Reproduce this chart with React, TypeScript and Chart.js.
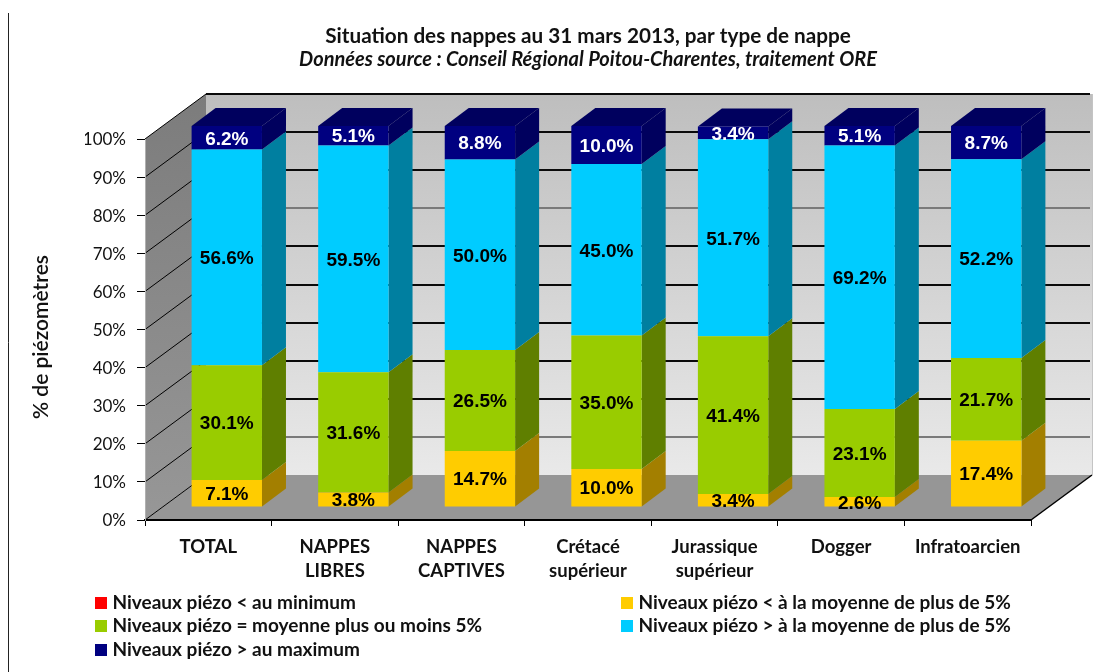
import React, { useEffect, useRef } from "react";
import { Chart, registerables } from "chart.js";

Chart.register(...registerables);

const categories = [
  "TOTAL",
  ["NAPPES", "LIBRES"],
  ["NAPPES", "CAPTIVES"],
  ["Crétacé", "supérieur"],
  ["Jurassique", "supérieur"],
  "Dogger",
  "Infratoarcien",
];
const belowMinimum = [0, 0, 0, 0, 0, 0, 0];
const belowAverage = [7.1, 3.8, 14.7, 10.0, 3.4, 2.6, 17.4];
const aroundAverage = [30.1, 31.6, 26.5, 35.0, 41.4, 23.1, 21.7];
const aboveAverage = [56.6, 59.5, 50.0, 45.0, 51.7, 69.2, 52.2];
const aboveMaximum = [6.2, 5.1, 8.8, 10.0, 3.4, 5.1, 8.7];

const seriesLabels = [
  "Niveaux piézo < au minimum",
  "Niveaux piézo < à la moyenne de plus de 5%",
  "Niveaux piézo = moyenne plus ou moins 5%",
  "Niveaux piézo > à la moyenne de plus de 5%",
  "Niveaux piézo > au maximum",
];
const seriesColors = ["#FF0000", "#FFCC00", "#99CC00", "#00CCFF", "#000080"];
const sideColors = ["#800000", "#A37F00", "#5F7F00", "#007FA0", "#00005E"];
const labelColors = ["#000", "#000", "#000", "#000", "#fff"];

const titleText = "Situation des nappes au 31 mars 2013, par type de nappe";
const subtitleText = "Données source : Conseil Régional Poitou-Charentes, traitement ORE";
const yTitleText = "% de piézomètres";

const WALL_DX = 61;
const WALL_DY = -45;
const BAR_PLANE_DX = 18.5;
const BAR_PLANE_DY = -13;
const BAR_DEPTH_DX = 24;
const BAR_DEPTH_DY = -18;
const LABEL_FONT = "Lato, 'Open Sans', sans-serif";

const legendSlots = [
  { x: 95, y: 597 },
  { x: 621, y: 597 },
  { x: 95, y: 620 },
  { x: 621, y: 620 },
  { x: 95, y: 644 },
];

const poly = (ctx: CanvasRenderingContext2D, pts: number[][], fill: any) => {
  ctx.fillStyle = fill;
  ctx.beginPath();
  pts.forEach((p, i) => (i ? ctx.lineTo(p[0], p[1]) : ctx.moveTo(p[0], p[1])));
  ctx.closePath();
  ctx.fill();
};

const stage3d = {
  id: "stage3d",
  beforeDraw(chart: any) {
    const { ctx, chartArea: a, scales } = chart;
    const { left: l, right: r, top: t, bottom: b } = a;
    ctx.save();
    // page frame
    ctx.strokeStyle = "#222";
    ctx.lineWidth = 1;
    ctx.beginPath();
    ctx.moveTo(8.5, 13);
    ctx.lineTo(8.5, 672);
    ctx.stroke();

    const back = ctx.createLinearGradient(0, t + WALL_DY, 0, b + WALL_DY);
    back.addColorStop(0, "#BEBEBE");
    back.addColorStop(1, "#E9E9E9");
    poly(ctx, [[l + WALL_DX, t + WALL_DY], [r + WALL_DX, t + WALL_DY], [r + WALL_DX, b + WALL_DY], [l + WALL_DX, b + WALL_DY]], back);

    const side = ctx.createLinearGradient(0, t + WALL_DY, 0, b);
    side.addColorStop(0, "#7C7C7C");
    side.addColorStop(1, "#979797");
    poly(ctx, [[l, t], [l + WALL_DX, t + WALL_DY], [l + WALL_DX, b + WALL_DY], [l, b]], side);

    poly(ctx, [[l, b], [r, b], [r + WALL_DX, b + WALL_DY], [l + WALL_DX, b + WALL_DY]], "#969696");

    // grid lines on the back and left walls, following the y scale
    const y = scales.y;
    y.ticks.forEach((tick: any) => {
      if (tick.value === 0) return;
      const py = y.getPixelForValue(tick.value);
      const soft = tick.value === 70 || tick.value === 10;
      ctx.fillStyle = soft ? "#7A7A7A" : "#0A0A0A";
      ctx.fillRect(l + WALL_DX, Math.round(py + WALL_DY) - 1, r - l - 2, 2);
      ctx.strokeStyle = "#000";
      ctx.lineWidth = 1;
      ctx.beginPath();
      ctx.moveTo(l, py);
      ctx.lineTo(l + WALL_DX, py + WALL_DY);
      ctx.stroke();
    });
    const y0 = y.getPixelForValue(0);
    ctx.strokeStyle = "#000";
    ctx.lineWidth = 1;
    ctx.beginPath();
    ctx.moveTo(l, y0);
    ctx.lineTo(l + WALL_DX, y0 + WALL_DY);
    ctx.stroke();
    ctx.lineWidth = 1.5;
    ctx.beginPath();
    ctx.moveTo(r, y0);
    ctx.lineTo(r + WALL_DX, y0 + WALL_DY);
    ctx.stroke();
    ctx.fillStyle = "#C4C4C4";
    ctx.fillRect(r + WALL_DX, t + WALL_DY, 1, b - t);
    ctx.restore();
  },
  beforeDatasetsDraw(chart: any) {
    const { ctx } = chart;
    ctx.save();
    chart.data.datasets.forEach((ds: any, di: number) => {
      chart.getDatasetMeta(di).data.forEach((bar: any, i: number) => {
        if (!ds.data[i]) return;
        const { x, y, base, width } = bar.getProps(["x", "y", "base", "width"], true);
        const xr = x + width / 2 + BAR_PLANE_DX;
        const yt = y + BAR_PLANE_DY;
        const yb = base + BAR_PLANE_DY;
        poly(ctx, [[xr, yt], [xr + BAR_DEPTH_DX, yt + BAR_DEPTH_DY], [xr + BAR_DEPTH_DX, yb + BAR_DEPTH_DY], [xr, yb]], sideColors[di]);
      });
    });
    const last = chart.data.datasets.length - 1;
    chart.getDatasetMeta(last).data.forEach((bar: any) => {
      const { x, y, width } = bar.getProps(["x", "y", "width"], true);
      const xl = x - width / 2 + BAR_PLANE_DX;
      const xr = x + width / 2 + BAR_PLANE_DX;
      const yt = y + BAR_PLANE_DY;
      poly(ctx, [[xl, yt], [xr, yt], [xr + BAR_DEPTH_DX, yt + BAR_DEPTH_DY], [xl + BAR_DEPTH_DX, yt + BAR_DEPTH_DY]], "#00005E");
    });
    ctx.restore();
    ctx.save();
    ctx.translate(BAR_PLANE_DX, BAR_PLANE_DY);
  },
  afterDatasetsDraw(chart: any) {
    const { ctx } = chart;
    ctx.restore();
    ctx.save();
    ctx.font = "bold 19px 'Liberation Sans', Arial, sans-serif";
    ctx.textAlign = "center";
    ctx.textBaseline = "middle";
    chart.data.datasets.forEach((ds: any, di: number) => {
      chart.getDatasetMeta(di).data.forEach((bar: any, i: number) => {
        const v = ds.data[i];
        if (!v) return;
        const { x, y, base } = bar.getProps(["x", "y", "base"], true);
        ctx.fillStyle = labelColors[di];
        ctx.fillText(v.toFixed(1) + "%", x + BAR_PLANE_DX, (y + base) / 2 + BAR_PLANE_DY + 1.5);
      });
    });
    ctx.restore();
  },
  afterDraw(chart: any) {
    const { ctx } = chart;
    ctx.save();
    ctx.fillStyle = "#111";
    ctx.font = `600 21px ${LABEL_FONT}`;
    ctx.textAlign = "center";
    ctx.textBaseline = "middle";
    ctx.translate(41, 337);
    ctx.rotate(-Math.PI / 2);
    ctx.fillText(yTitleText, 0, 0);
    ctx.restore();

    ctx.save();
    ctx.font = `bold 19px ${LABEL_FONT}`;
    ctx.textBaseline = "middle";
    ctx.textAlign = "left";
    chart.data.datasets.forEach((ds: any, di: number) => {
      const s = legendSlots[di];
      ctx.fillStyle = ds.backgroundColor;
      ctx.fillRect(s.x, s.y, 12, 12);
      ctx.fillStyle = "#111";
      ctx.fillText(ds.label, s.x + 17.5, s.y + 6);
    });
    ctx.restore();
  },
};

export default function App() {
  const ref = useRef<HTMLCanvasElement | null>(null);
  useEffect(() => {
    const values = [belowMinimum, belowAverage, aroundAverage, aboveAverage, aboveMaximum];
    const chart = new Chart(ref.current as HTMLCanvasElement, {
      type: "bar",
      data: {
        labels: categories as any,
        datasets: values.map((data, i) => ({
          label: seriesLabels[i],
          data,
          backgroundColor: seriesColors[i],
          borderWidth: 0,
          categoryPercentage: 1,
          barPercentage: 0.556,
        })),
      },
      options: {
        responsive: false,
        animation: false,
        layout: { padding: { left: 85, right: 78, top: 0, bottom: 92 } },
        plugins: {
          legend: { display: false },
          tooltip: { enabled: false },
          title: {
            display: true,
            text: titleText,
            fullSize: false,
            color: "#111",
            font: { family: LABEL_FONT, size: 20.7, weight: "bold", lineHeight: "20px" },
            padding: { top: 26, bottom: 4 },
          },
          subtitle: {
            display: true,
            text: subtitleText,
            fullSize: false,
            color: "#111",
            font: { family: LABEL_FONT, size: 20, weight: "bold", style: "italic", lineHeight: "18px" },
            padding: { top: 1, bottom: 70 },
          },
        },
        scales: {
          x: {
            stacked: true,
            afterFit: (s: any) => { s.height = 60; },
            grid: { drawOnChartArea: false, drawTicks: true, tickLength: 6, tickColor: "#000", tickWidth: 1 },
            border: { color: "#000", width: 2 },
            ticks: {
              color: "#111",
              padding: 9,
              maxRotation: 0,
              autoSkip: false,
              font: { family: LABEL_FONT, size: 18.5, weight: "bold", lineHeight: "24px" },
            },
          },
          y: {
            stacked: true,
            min: 0,
            max: 100,
            afterFit: (s: any) => { s.width = 60; },
            grid: { drawOnChartArea: false, drawTicks: true, tickLength: 8, tickColor: "#000", tickWidth: 1 },
            border: { color: "#B0B0B0", width: 1 },
            ticks: {
              stepSize: 10,
              color: "#111",
              padding: 11,
              labelOffset: 1,
              callback: (v: any) => v + "%",
              font: { family: LABEL_FONT, size: 17 },
            },
          },
        },
      },
      plugins: [stage3d],
    } as any);
    return () => chart.destroy();
  }, []);
  return (
    <div style={{ position: "absolute", left: 0, top: 0, width: 1109, height: 672, background: "#fff" }}>
      <canvas ref={ref} width={1109} height={672} style={{ display: "block" }} />
    </div>
  );
}
